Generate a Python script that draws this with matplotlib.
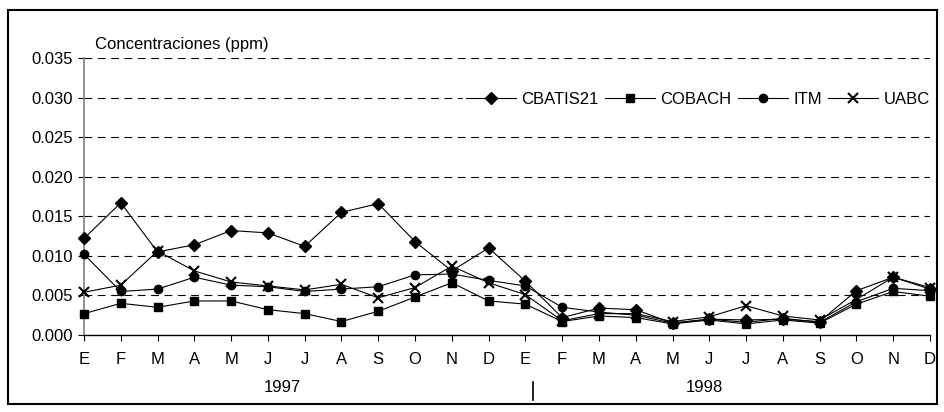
import matplotlib
matplotlib.use("Agg")
import matplotlib.pyplot as plt
from matplotlib.patches import Rectangle
from matplotlib.lines import Line2D

plt.rcParams["font.family"] = ["Liberation Sans", "DejaVu Sans"]
plt.rcParams["font.size"] = 12

months = ["E", "F", "M", "A", "M", "J", "J", "A", "S", "O", "N", "D"] * 2
years = ["1997", "1998"]

cbatis21 = [0.0122, 0.0167, 0.0105, 0.0114, 0.0132, 0.0129, 0.0112, 0.0155, 0.0166, 0.0118, 0.0081, 0.0110,
            0.0068, 0.0022, 0.0034, 0.0032, 0.0015, 0.0020, 0.0019, 0.0020, 0.0017, 0.0056, 0.0073, 0.0058]
cobach = [0.0027, 0.0040, 0.0035, 0.0043, 0.0043, 0.0032, 0.0027, 0.0017, 0.0030, 0.0048, 0.0066, 0.0043,
          0.0039, 0.0017, 0.0024, 0.0022, 0.0014, 0.0019, 0.0014, 0.0019, 0.0015, 0.0039, 0.0055, 0.0049]
itm = [0.0102, 0.0055, 0.0058, 0.0073, 0.0063, 0.0061, 0.0055, 0.0058, 0.0061, 0.0076, 0.0077, 0.0069,
       0.0062, 0.0035, 0.0029, 0.0025, 0.0015, 0.0020, 0.0016, 0.0021, 0.0016, 0.0042, 0.0059, 0.0056]
uabc = [0.0054, 0.0063, 0.0106, 0.0081, 0.0067, 0.0062, 0.0057, 0.0064, 0.0047, 0.0060, 0.0087, 0.0066,
        0.0051, 0.0018, 0.0027, 0.0027, 0.0017, 0.0023, 0.0037, 0.0024, 0.0019, 0.0045, 0.0073, 0.0060]

series = [
    ("CBATIS21", cbatis21, "D", 6, 1.0),
    ("COBACH", cobach, "s", 5.5, 1.0),
    ("ITM", itm, "o", 6, 1.0),
    ("UABC", uabc, "x", 7, 1.5),
]

fig = plt.figure(figsize=(9.45, 4.12), dpi=100)
ax = fig.add_axes([84 / 945, 77 / 412, 846 / 945, 277 / 412])

x = list(range(len(months)))
handles = []
for name, vals, mk, ms, mew in series:
    (h,) = ax.plot(x, vals, color="black", lw=0.8, marker=mk, markersize=ms,
                   markeredgewidth=mew, markerfacecolor="black",
                   markeredgecolor="black", label=name, clip_on=False, zorder=3)
    handles.append(h)

ax.set_xlim(0, len(months) - 1)
ax.set_ylim(0, 0.035)
ax.set_yticks([i * 0.005 for i in range(8)])
ax.set_yticklabels([f"{i * 0.005:.3f}" for i in range(8)])
ax.set_xticks(x)
ax.set_xticklabels(months)

for y in [i * 0.005 for i in range(1, 8)]:
    ax.axhline(y, color="black", lw=0.8, ls=(0, (7, 5)), zorder=1)

for s in ["top", "right"]:
    ax.spines[s].set_visible(False)
ax.spines["left"].set_color("#808080")
ax.spines["left"].set_linewidth(1.2)
ax.spines["bottom"].set_color("black")
ax.spines["bottom"].set_linewidth(1.0)
ax.tick_params(axis="x", direction="out", length=4, width=0.8, pad=8, colors="black")
ax.tick_params(axis="y", direction="out", length=4, width=0.8, pad=4, colors="black")

# year labels under the month axis
xt = ax.get_xaxis_transform()
ax.text(5.38, -0.19, years[0], transform=xt, ha="center", va="center")
ax.text(16.87, -0.19, years[1], transform=xt, ha="center", va="center")
ax.add_line(Line2D([12.2, 12.2], [-0.17, -0.235], transform=xt,
                   color="black", lw=1.2, clip_on=False))

fig.text(95 / 945, 1 - 45 / 412, "Concentraciones (ppm)", ha="left", va="center")

leg = fig.legend(handles=handles, loc="center", bbox_to_anchor=(698 / 945, 1 - 99 / 412),
                 ncol=4, frameon=True, handlelength=3.0, handletextpad=0.3,
                 columnspacing=0.4, borderpad=0.2)
leg.get_frame().set_facecolor("white")
leg.get_frame().set_edgecolor("white")
leg.get_frame().set_alpha(1)

fig.patches.append(Rectangle((8 / 945, 1 - 404 / 412), 929 / 945, 394 / 412,
                             transform=fig.transFigure, fill=False,
                             edgecolor="black", lw=1.5))

fig.savefig("out.png", dpi=100)
